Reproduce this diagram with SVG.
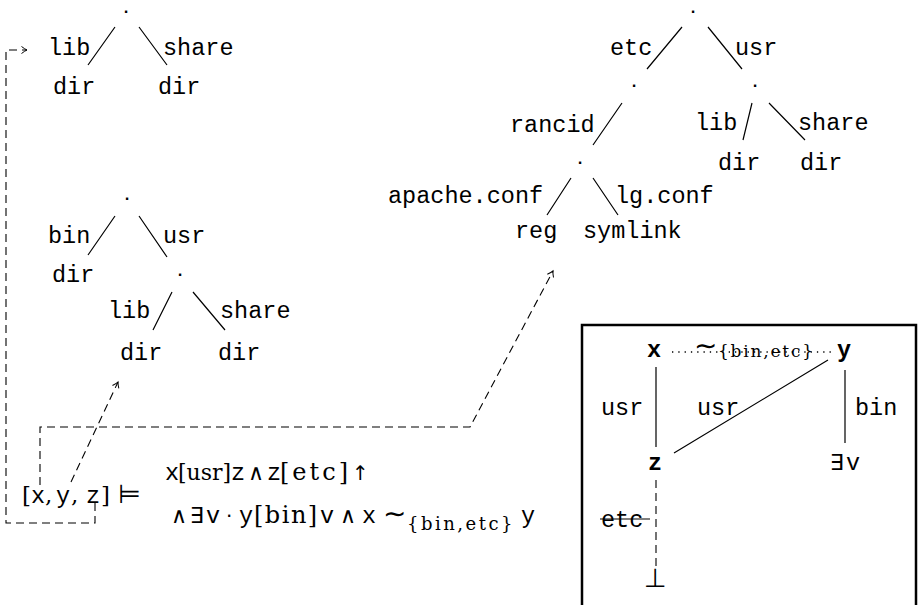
<svg xmlns="http://www.w3.org/2000/svg" width="918" height="605" viewBox="0 0 918 605">
<style>
  .t { font-family: "Liberation Mono", "DejaVu Sans Mono", monospace; font-size: 23.5px; fill: #000; }
  .dt { font-family: "Liberation Mono", "DejaVu Sans Mono", monospace; font-size: 16px; font-weight: bold; fill: #000; }
  .b { font-weight: bold; }
  .r { font-family: "DejaVu Serif", "Liberation Serif", serif; fill: #000; }
  .o { font-family: "DejaVu Sans", "DejaVu Serif", sans-serif; fill: #000; }
  .e { stroke: #000; stroke-width: 1.2; fill: none; }
  .d { stroke: #000; stroke-width: 1.1; fill: none; stroke-dasharray: 8 5; }
  .dot { stroke: #000; stroke-width: 1.3; fill: none; stroke-dasharray: 1.3 5; }
</style>
<defs>
  <marker id="arr" markerUnits="userSpaceOnUse" markerWidth="12" markerHeight="12" viewBox="-7 -6 9 12" refX="0" refY="0" orient="auto" overflow="visible">
    <path d="M-5.5,-3.5 Q-2,-0.8 0,0 Q-2,0.8 -5.5,3.5" stroke="#000" stroke-width="1" fill="none" stroke-dasharray="none"/>
  </marker>
</defs>
<rect width="918" height="605" fill="#fff"/>

<g id="connectors">
  <path class="e" d="M115,27 L88,65 M139,27 L167,65"/>
  <path class="e" d="M115,216 L88,255 M139,216 L167,257 M172,292 L153,330 M193,292 L225,330"/>
  <path class="e" d="M682,27 L647,69 M708,27 L742,69 M622,103 L593,145 M752,103 L743,140 M769,103 L805,140 M571,178 L547,215 M593,178 L618,215"/>
  <path class="d" d="M95,503 V523 H6 V50 H27" marker-end="url(#arr)"/>
  <path class="d" d="M71,482 L118,382" marker-end="url(#arr)"/>
  <path class="d" d="M40,485 V427 H470 L553,271" marker-end="url(#arr)"/>
  <path class="dot" d="M672,352 H832"/>
  <path class="e" d="M656,367 V447 M845,370 V443 M828,360 L674,453"/>
  <path class="d" d="M656,480 V567"/>
  <path class="e" d="M600,519 H650"/>
</g>

<g id="tree1">
  <g id="t1-root"><text class="dt" x="126" y="13" text-anchor="middle">.</text></g>
  <g id="t1-lib"><text class="t" x="48" y="55">lib</text><text class="t" x="53" y="94">dir</text></g>
  <g id="t1-share"><text class="t" x="163" y="55">share</text><text class="t" x="158" y="94">dir</text></g>
</g>

<g id="tree2">
  <g id="t2-root"><text class="dt" x="127" y="200" text-anchor="middle">.</text></g>
  <g id="t2-bin"><text class="t" x="48" y="243">bin</text><text class="t" x="52" y="282">dir</text></g>
  <g id="t2-usr"><text class="t" x="163" y="243">usr</text><text class="dt" x="180" y="276" text-anchor="middle">.</text></g>
  <g id="t2-lib"><text class="t" x="108" y="318">lib</text><text class="t" x="120" y="360">dir</text></g>
  <g id="t2-share"><text class="t" x="220" y="318">share</text><text class="t" x="218" y="360">dir</text></g>
</g>

<g id="tree3">
  <g id="t3-root"><text class="dt" x="693" y="13" text-anchor="middle">.</text></g>
  <g id="t3-etc"><text class="t" x="610" y="55">etc</text><text class="dt" x="634" y="87" text-anchor="middle">.</text></g>
  <g id="t3-usr"><text class="t" x="735" y="55">usr</text><text class="dt" x="755" y="87" text-anchor="middle">.</text></g>
  <g id="t3-rancid"><text class="t" x="510" y="132">rancid</text><text class="dt" x="580" y="164" text-anchor="middle">.</text></g>
  <g id="t3-lib"><text class="t" x="695" y="130">lib</text><text class="t" x="718" y="170">dir</text></g>
  <g id="t3-share"><text class="t" x="798" y="130">share</text><text class="t" x="800" y="170">dir</text></g>
  <g id="t3-apache"><text class="t" x="388" y="203">apache.conf</text><text class="t" x="515" y="238">reg</text></g>
  <g id="t3-lg"><text class="t" x="615" y="203">lg.conf</text><text class="t" x="583" y="238">symlink</text></g>
</g>

<g id="formula">
  <g id="env">
    <text class="t" y="503"><tspan class="r" x="22" font-size="23">[</tspan><tspan x="31">x</tspan><tspan class="r" x="45" font-size="23">,</tspan><tspan x="56">y</tspan><tspan class="r" x="71" font-size="23">,</tspan><tspan x="86">z</tspan><tspan class="r" x="101" font-size="23">]</tspan><tspan class="o" x="118" font-size="26">⊨</tspan></text>
  </g>
  <g id="line1">
    <text class="t" y="480"><tspan x="165">x</tspan><tspan class="r" x="178" font-size="22">[usr]</tspan><tspan x="231">z</tspan><tspan class="o" x="248" font-size="22">∧</tspan><tspan x="267">z</tspan><tspan class="r" x="280" font-size="24" letter-spacing="3">[etc]</tspan><tspan class="o" x="352" font-size="20">↑</tspan></text>
  </g>
  <g id="line2">
    <text class="t" y="523"><tspan class="o" x="171" font-size="22">∧</tspan><tspan class="o" x="190" font-size="22">∃</tspan><tspan x="206">v</tspan><tspan class="o" x="226" font-size="20">·</tspan><tspan x="239">y</tspan><tspan class="r" x="254" font-size="24" letter-spacing="1.5">[bin]</tspan><tspan x="320">v</tspan><tspan class="o" x="340" font-size="22">∧</tspan><tspan x="362">x</tspan><tspan class="o" x="383" font-size="28">∼</tspan><tspan class="r" x="407" y="530" font-size="18" letter-spacing="2.5">{bin,etc}</tspan><tspan x="521" y="523">y</tspan></text>
  </g>
</g>

<g id="box">
  <rect x="582" y="325" width="334" height="300" fill="none" stroke="#000" stroke-width="2.5"/>
  <g id="b-x"><text class="t b" x="647" y="357">x</text></g>
  <g id="b-sim">
    <text class="o" y="357"><tspan x="694" y="355" font-size="28">∼</tspan><tspan class="r" x="718" y="357" font-size="17" letter-spacing="1.8">{bin,etc}</tspan></text>
  </g>
  <g id="b-y"><text class="t b" x="837" y="357">y</text></g>
  <g id="b-z"><text class="t b" x="648" y="470">z</text></g>
  <g id="b-v"><text class="t" y="470"><tspan class="o" x="830" font-size="22">∃</tspan><tspan x="846">v</tspan></text></g>
  <g id="b-bot"><text class="o" x="644" y="587" font-size="26">⊥</text></g>
  <text class="t" x="601" y="415">usr</text>
  <text class="t" x="697" y="415">usr</text>
  <text class="t" x="855" y="415">bin</text>
  <text class="t" x="601" y="527">etc</text>
</g>
</svg>
